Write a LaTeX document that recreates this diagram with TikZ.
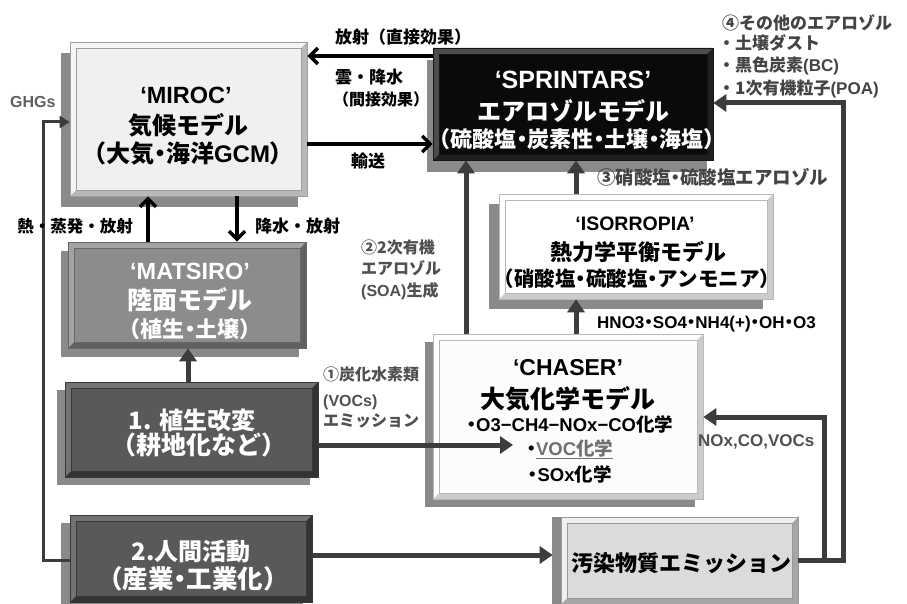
\documentclass[tikz,border=0pt]{standalone}
\usepackage{fontspec}
\setmainfont{Noto Sans CJK JP}
\newfontfamily\jph{Noto Sans CJK JP}[RawFeature=+halt]
\newfontfamily\lat{Liberation Sans}
\usetikzlibrary{arrows.meta,shadows}
\definecolor{shd}{HTML}{8A8A8A}
\definecolor{garc}{HTML}{3C3C3C}
\definecolor{lblg}{HTML}{505050}
\definecolor{lbld}{HTML}{444444}
\definecolor{ghgc}{HTML}{606060}
\definecolor{vocg}{HTML}{707070}
% label text (full-width punctuation)
\newcommand\jtext[7][base]{\node[anchor=#1,inner sep=0pt,text=#6,font=\fontsize{#5}{#5}\selectfont\bfseries] (#2) at (#3,#4) {#7};}
% box text (half-width punctuation)
\newcommand\htext[7][base]{\node[anchor=#1,inner sep=0pt,text=#6,font=\jph\fontsize{#5}{#5}\selectfont\bfseries] (#2) at (#3,#4) {#7};}
\newcommand\bevbox[8]{\node[#8,minimum width={#4-#2},minimum height={#5-#3},
  general shadow={fill=shd,shadow xshift=-#6pt,shadow yshift=-#7pt}] (#1) at ({(#2+#4)/2},{(#3+#5)/2}) {};}
\tikzset{
  bev/.style n args={4}{rectangle,inner sep=0pt,fill=#2,draw=#4,line width=0.6pt,
    path picture={
      \coordinate (pSW) at (path picture bounding box.south west);
      \coordinate (pNE) at (path picture bounding box.north east);
      \coordinate (pNW) at (path picture bounding box.north west);
      \fill[#1] (pSW) -- (pNW) -- (pNE) -- ([shift={(-6pt,-6pt)}]pNE)
        -- ([shift={(6pt,-6pt)}]pNW) -- ([shift={(6pt,6pt)}]pSW) -- cycle;
      \fill[#3,draw=#4,line width=0.7pt]
      ([shift={(6pt,6pt)}]pSW) rectangle ([shift={(-6pt,-6pt)}]pNE);}},
  gar/.style={draw=garc,line width=5pt,-{Triangle[length=13pt,width=17pt]}},
  bar/.style={draw=black,line width=3.5pt,-{Straight Barb[length=8pt,width=16pt]}},
  ghgline/.style={draw=garc,line width=3pt,-{Triangle[length=10pt,width=12pt]}},
}
\begin{document}
\begin{tikzpicture}[x=1pt,y=-1pt]
\useasboundingbox[fill=white] (0,0) rectangle (907,604);
% boxes
\bevbox{miroc}{70}{42}{307}{196}{9}{11}{bev={black!4}{black!28}{black!6}{black!38}}
\bevbox{sprint}{433}{48}{713}{160}{6}{12}{bev={black!70}{black!88}{black!96}{black!92}}
\bevbox{isorr}{499}{194}{773}{299}{10}{10}{bev={white}{black!20}{white}{black!28}}
\bevbox{chaser}{433}{334}{703}{499}{8}{8}{bev={white}{black!20}{black!1}{black!28}}
\bevbox{pollut}{561}{517}{798}{604}{9}{0}{bev={black!6}{black!35}{black!14}{black!40}}
\bevbox{matsiro}{68}{242}{306}{348}{7}{9}{bev={black!36}{black!62}{black!45}{black!60}}
\bevbox{veg}{65}{382}{318}{477}{8}{8}{bev={black!55}{black!80}{black!65}{black!78}}
\bevbox{human}{70}{515}{312}{602}{9}{8}{bev={black!55}{black!80}{black!65}{black!78}}
% helper coordinates
\coordinate (yRad) at (0,56);
\coordinate (yTr) at (0,144);
\coordinate (xUp) at (148,0);
\coordinate (xDn) at (237,0);
\coordinate (xV) at (188,0);
\coordinate (yVoc) at (0,445);
\coordinate (tipVoc) at (513,445);
\coordinate (yHum) at (0,555);
\coordinate (yG) at (0,560);
\coordinate (yGH) at (0,122);
\coordinate (xG) at (43,0);
\coordinate (yP) at (0,560);
\coordinate (xIn) at (824,0);
\coordinate (yNox) at (0,417);
\coordinate (xOut) at (843,0);
\coordinate (yOth) at (0,103);
\coordinate (xSoa) at (466,0);
\coordinate (xIs) at (576,0);
% connectors
\draw[bar] (sprint.west |- yRad) -- (miroc.east |- yRad);
\draw[bar] (miroc.east |- yTr) -- (sprint.west |- yTr);
\draw[bar] (matsiro.north -| xUp) -- (miroc.south -| xUp);
\draw[bar] (miroc.south -| xDn) -- (matsiro.north -| xDn);
\draw[gar] (veg.north -| xV) -- (matsiro.south -| xV);
\draw[gar] (veg.east |- yVoc) -- (tipVoc);
\draw[gar,shorten >=8pt] (human.east |- yHum) -- (pollut.west |- yHum);
\draw[ghgline] (human.west |- yG) -- (xG |- yG) -- (xG |- yGH) -- (miroc.west |- yGH);
\draw[gar] (pollut.east |- yP) -- (xIn |- yP) -- (xIn |- yNox) -- (chaser.east |- yNox);
\draw[gar] (pollut.east |- yP) -- (xOut |- yP) -- (xOut |- yOth) -- (sprint.east |- yOth);
\draw[gar] (chaser.north -| xSoa) -- (sprint.south -| xSoa);
\draw[gar] (isorr.north -| xIs) -- (sprint.south -| xIs);
\draw[gar] (chaser.north -| xIs) -- (isorr.south -| xIs);
% box texts
\htext{mi1}{186}{104}{23.5}{black}{\lat ‘MIROC’}
\htext{mi2}{188}{135}{24}{black}{気候モデル}
\htext{mi3}{188}{163}{24}{black}{（大気・海洋{\lat GCM}）}
\htext{sp1}{573}{89}{25}{white}{\lat ‘SPRINTARS’}
\htext{sp2}{573}{121}{24}{white}{エアロゾルモデル}
\htext{sp3}{577}{148}{22}{white}{（硫酸塩・炭素性・土壌・海塩）}
\htext{is1}{635}{230}{19.5}{black}{\lat ‘ISORROPIA’}
\htext{is2}{638}{260}{22}{black}{熱力学平衡モデル}
\htext{is3}{637}{286}{20.5}{black}{（硝酸塩・硫酸塩・アンモニア）}
\htext{ch1}{568}{375}{23}{black}{\lat ‘CHASER’}
\htext{ch2}{568}{408}{25}{black}{大気化学モデル}
\htext{ch3}{570}{431}{18.5}{black}{・{\lat O3−CH4−NOx−CO}化学}
\htext{ch4}{570}{455}{18.5}{black}{・\textcolor{vocg}{\underline{{\lat VOC}化学}}}
\htext{ch5}{570}{481}{18.5}{black}{・{\lat SOx}化学}
\htext{po1}{681}{571}{22}{black}{汚染物質エミッション}
\htext{ma1}{190}{279}{23.5}{white}{\lat ‘MATSIRO’}
\htext{ma2}{190}{309}{25}{white}{陸面モデル}
\htext{ma3}{190}{337}{22}{white}{（植生・土壌）}
\htext{ve1}{192}{429}{24}{white}{1. 植生改変}
\htext{ve2}{199}{454}{25}{white}{（耕地化など）}
\htext{hu1}{191}{560}{24}{white}{2.人間活動}
\htext{hu2}{193}{588}{25.5}{white}{（産業・工業化）}
% labels
\jtext[base west]{lRad}{335}{44}{17}{black}{放射（直接効果）}
\jtext[base west]{lCl1}{335}{84}{17}{black}{雲・降水}
\jtext[base west]{lCl2}{333}{106}{16}{black}{（間接効果）}
\jtext{lTr}{368}{168}{17}{black}{輸送}
\jtext[base east]{lHeat}{133}{233}{16.5}{black}{熱・蒸発・放射}
\jtext[base west]{lPr}{255}{233}{17}{black}{降水・放射}
\jtext[base west]{lS1}{361}{253}{16}{lblg}{②2次有機}
\jtext[base west]{lS2}{361}{274}{16}{lblg}{エアロゾル}
\jtext[base west]{lS3}{361}{296}{16}{lblg}{{\lat (SOA)}生成}
\htext[base west]{lN}{597}{185}{18.5}{lbld}{③硝酸塩・硫酸塩エアロゾル}
\jtext[base west]{lO1}{722}{30}{17}{lbld}{④その他のエアロゾル}
\jtext[base west]{lO2}{718}{50}{17}{lbld}{・土壌ダスト}
\jtext[base west]{lO3}{718}{72}{17}{lbld}{・黒色炭素{\lat (BC)}}
\jtext[base west]{lO4}{718}{95}{17}{lbld}{・1次有機粒子{\lat (POA)}}
\htext[base west]{lH}{597}{328}{17}{black}{{\lat HNO3}・{\lat SO4}・{\lat NH4(+)}・{\lat OH}・{\lat O3}}
\jtext[base west]{lV1}{323}{380}{16}{lblg}{①炭化水素類}
\jtext[base west]{lV2}{323}{406}{16}{lblg}{\lat (VOCs)}
\jtext[base west]{lV3}{323}{426}{16}{lblg}{エミッション}
\jtext[base west]{lNo}{698}{446}{17}{lblg}{\lat NOx,CO,VOCs}
\jtext[base west]{lG}{10}{108}{16}{ghgc}{\lat GHGs}
\end{tikzpicture}
\end{document}
